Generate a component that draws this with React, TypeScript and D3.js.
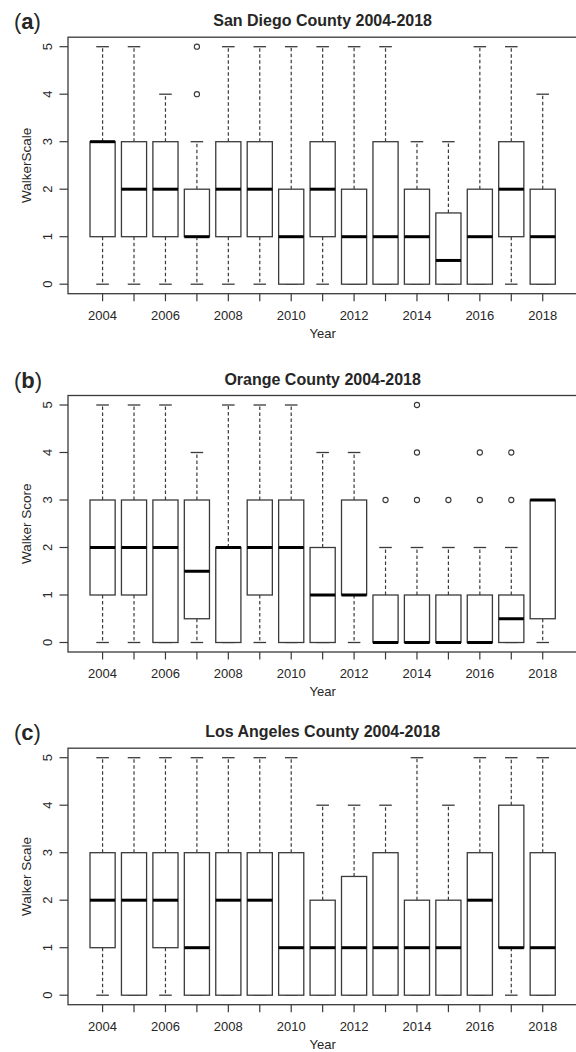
import React from "react";
import * as d3 from "d3";

// ---- DATA ----
const years = [2004, 2005, 2006, 2007, 2008, 2009, 2010, 2011, 2012, 2013, 2014, 2015, 2016, 2017, 2018];
const tickLabelYears = [2004, 2006, 2008, 2010, 2012, 2014, 2016, 2018];
const yTicks = [0, 1, 2, 3, 4, 5];

// [lower whisker, Q1, median, Q3, upper whisker]
const sanDiegoStats = [
  [0, 1, 3, 3, 5],
  [0, 1, 2, 3, 5],
  [0, 1, 2, 3, 4],
  [0, 1, 1, 2, 3],
  [0, 1, 2, 3, 5],
  [0, 1, 2, 3, 5],
  [0, 0, 1, 2, 5],
  [0, 1, 2, 3, 5],
  [0, 0, 1, 2, 5],
  [0, 0, 1, 3, 5],
  [0, 0, 1, 2, 3],
  [0, 0, 0.5, 1.5, 3],
  [0, 0, 1, 2, 5],
  [0, 1, 2, 3, 5],
  [0, 0, 1, 2, 4],
];
const sanDiegoOutliers = [
  [2007, 4],
  [2007, 5],
];

const orangeStats = [
  [0, 1, 2, 3, 5],
  [0, 1, 2, 3, 5],
  [0, 0, 2, 3, 5],
  [0, 0.5, 1.5, 3, 4],
  [0, 0, 2, 2, 5],
  [0, 1, 2, 3, 5],
  [0, 0, 2, 3, 5],
  [0, 0, 1, 2, 4],
  [0, 1, 1, 3, 4],
  [0, 0, 0, 1, 2],
  [0, 0, 0, 1, 2],
  [0, 0, 0, 1, 2],
  [0, 0, 0, 1, 2],
  [0, 0, 0.5, 1, 2],
  [0, 0.5, 3, 3, 3],
];
const orangeOutliers = [
  [2013, 3],
  [2014, 3],
  [2014, 4],
  [2014, 5],
  [2015, 3],
  [2016, 3],
  [2016, 4],
  [2017, 3],
  [2017, 4],
];

const losAngelesStats = [
  [0, 1, 2, 3, 5],
  [0, 0, 2, 3, 5],
  [0, 1, 2, 3, 5],
  [0, 0, 1, 3, 5],
  [0, 0, 2, 3, 5],
  [0, 0, 2, 3, 5],
  [0, 0, 1, 3, 5],
  [0, 0, 1, 2, 4],
  [0, 0, 1, 2.5, 4],
  [0, 0, 1, 3, 4],
  [0, 0, 1, 2, 5],
  [0, 0, 1, 2, 4],
  [0, 0, 2, 3, 5],
  [0, 1, 1, 4, 5],
  [0, 0, 1, 3, 5],
];
const losAngelesOutliers: number[][] = [];

const panelLabels = ["a", "b", "c"];
const panelTitles = ["San Diego County 2004-2018", "Orange County 2004-2018", "Los Angeles County 2004-2018"];
const panelYLabels = ["WalkerScale", "Walker Score", "Walker Scale"];
const panelStats = [sanDiegoStats, orangeStats, losAngelesStats];
const panelOutliers = [sanDiegoOutliers, orangeOutliers, losAngelesOutliers];

// ---- LAYOUT ----
const W = 576;
const H = 1052;
const plotLeft = 68;
const plotRight = 577.3;
const plotHeight = 256.5;
const panelTops = [37.2, 395.5, 748.2];
const FONT = "Liberation Sans, Arial, Helvetica, sans-serif";
const TEXT = "#262626";
const LINE = "#3a3a3a";

function Panel({ idx }: { idx: number }) {
  const top = panelTops[idx];
  const bottom = top + plotHeight;
  const stats = panelStats[idx];
  const outliers = panelOutliers[idx];

  const x = d3.scaleLinear().domain([-0.1, 16.1]).range([plotLeft, plotRight]);
  const y = d3.scaleLinear().domain([-0.2, 5.2]).range([bottom, top]);
  const xi = (yr: number) => x(years.indexOf(yr) + 1);
  const unit = x(1) - x(0);
  const boxW = unit * 0.8;
  const capW = boxW * 0.5;
  const midX = (plotLeft + plotRight) / 2;

  return (
    <g>
      <text x={14} y={top - 8} fontFamily={FONT} fontSize={22} fill={TEXT}>
        (<tspan fontWeight="bold">{panelLabels[idx]}</tspan>)
      </text>
      <text x={midX} y={top - 11} textAnchor="middle" fontFamily={FONT} fontSize={16} fontWeight="bold" fill={TEXT}>
        {panelTitles[idx]}
      </text>

      {/* boxes */}
      {stats.map((s, i) => {
        const cx = x(i + 1);
        const [lo, q1, med, q3, hi] = s;
        return (
          <g key={i}>
            {hi > q3 && (
              <line x1={cx} x2={cx} y1={y(q3)} y2={y(hi)} stroke={LINE} strokeWidth={1.2} strokeDasharray="3.5,2.5" />
            )}
            {lo < q1 && (
              <line x1={cx} x2={cx} y1={y(q1)} y2={y(lo)} stroke={LINE} strokeWidth={1.2} strokeDasharray="3.5,2.5" />
            )}
            <line x1={cx - capW / 2} x2={cx + capW / 2} y1={y(hi)} y2={y(hi)} stroke={LINE} strokeWidth={1.3} />
            <line x1={cx - capW / 2} x2={cx + capW / 2} y1={y(lo)} y2={y(lo)} stroke={LINE} strokeWidth={1.3} />
            <rect
              x={cx - boxW / 2}
              y={y(q3)}
              width={boxW}
              height={y(q1) - y(q3)}
              fill="white"
              stroke={LINE}
              strokeWidth={1.3}
            />
            <line x1={cx - boxW / 2} x2={cx + boxW / 2} y1={y(med)} y2={y(med)} stroke="#000" strokeWidth={3} />
          </g>
        );
      })}

      {/* outliers */}
      {outliers.map(([yr, v], i) => (
        <circle key={i} cx={xi(yr)} cy={y(v)} r={2.6} fill="none" stroke={LINE} strokeWidth={1.1} />
      ))}

      {/* frame */}
      <rect x={plotLeft} y={top} width={plotRight - plotLeft} height={plotHeight} fill="none" stroke={LINE} strokeWidth={1.3} />

      {/* y axis */}
      {yTicks.map((t) => (
        <g key={t}>
          <line x1={plotLeft - 8.5} x2={plotLeft} y1={y(t)} y2={y(t)} stroke={LINE} strokeWidth={1.2} />
          <text
            transform={`translate(${52},${y(t)}) rotate(-90)`}
            textAnchor="middle"
            fontFamily={FONT}
            fontSize={13}
            fill={TEXT}
          >
            {t}
          </text>
        </g>
      ))}
      <text
        transform={`translate(${30.5},${(top + bottom) / 2}) rotate(-90)`}
        textAnchor="middle"
        fontFamily={FONT}
        fontSize={13.5}
        fill={TEXT}
      >
        {panelYLabels[idx]}
      </text>

      {/* x axis */}
      {years.map((yr) => (
        <line key={yr} x1={xi(yr)} x2={xi(yr)} y1={bottom} y2={bottom + 7.5} stroke={LINE} strokeWidth={1.2} />
      ))}
      {tickLabelYears.map((yr) => (
        <text key={yr} x={xi(yr)} y={bottom + 26} textAnchor="middle" fontFamily={FONT} fontSize={13} fill={TEXT}>
          {yr}
        </text>
      ))}
      <text x={midX} y={bottom + 44} textAnchor="middle" fontFamily={FONT} fontSize={13} fill={TEXT}>
        Year
      </text>
    </g>
  );
}

export default function App() {
  return (
    <svg
      width={W}
      height={H}
      viewBox={`0 0 ${W} ${H}`}
      style={{ position: "absolute", left: 0, top: 0, background: "white" }}
    >
      <rect x={0} y={0} width={W} height={H} fill="white" />
      {panelLabels.map((_, i) => (
        <Panel key={i} idx={i} />
      ))}
    </svg>
  );
}
